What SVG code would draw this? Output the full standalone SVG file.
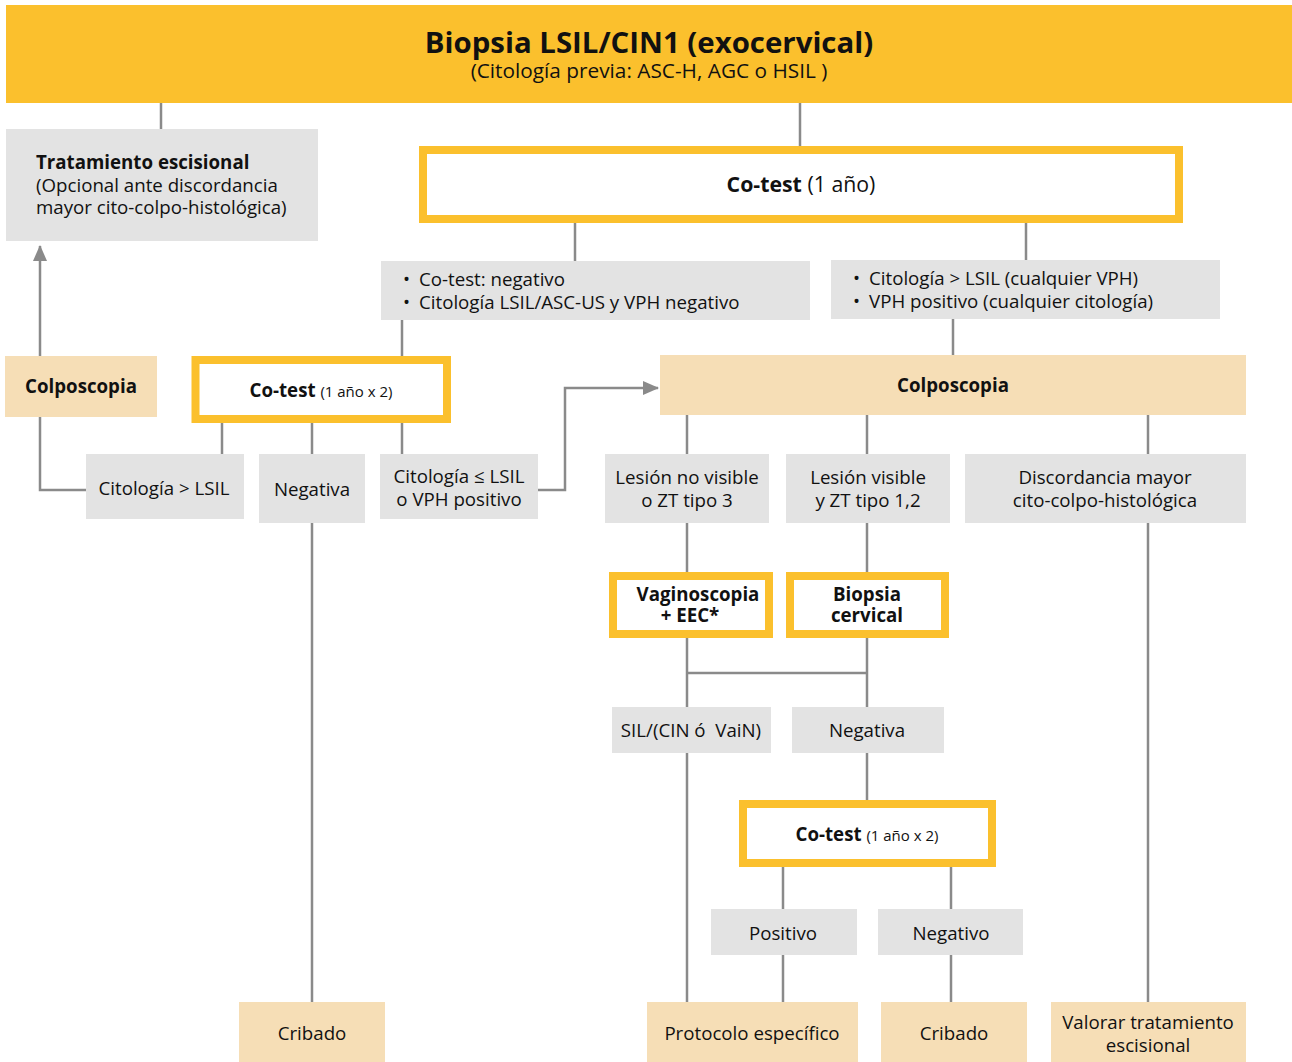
<svg xmlns="http://www.w3.org/2000/svg" width="1292" height="1062" viewBox="0 0 1292 1062">
<style>
text{font-family:"Open Sans","Noto Sans","DejaVu Sans",sans-serif;fill:#111;font-size:18.7px}
.c{text-anchor:middle}
.b{font-weight:bold}
.g{fill:#e3e3e3}
.y{fill:#f6deb6}
.o{fill:#fff;stroke:#fbc02d;stroke-width:8}
.ln{fill:none;stroke:#8a8a8a;stroke-width:2.5}
.s{font-size:15px}
</style>
<defs>
<marker id="ah2" viewBox="0 0 16 14" refX="15" refY="7" markerWidth="16" markerHeight="14" markerUnits="userSpaceOnUse" orient="auto">
<path d="M0,0 L16,7 L0,14 z" fill="#8a8a8a"/>
</marker>
</defs>
<g id="connectors">
<path class="ln" d="M161,103 V129"/>
<path class="ln" d="M800,103 V146"/>
<path class="ln" d="M575,223 V261"/>
<path class="ln" d="M1026,223 V260"/>
<path class="ln" d="M402,320 V356"/>
<path class="ln" d="M953,319 V355"/>
<path class="ln" d="M40,356 V246" marker-end="url(#ah2)"/>
<path class="ln" d="M40,417 V490 H86"/>
<path class="ln" d="M222,423 V454"/>
<path class="ln" d="M312,423 V454"/>
<path class="ln" d="M402,423 V454"/>
<path class="ln" d="M538,490 H565 V388 H658" marker-end="url(#ah2)"/>
<path class="ln" d="M312,523 V1002"/>
<path class="ln" d="M687,415 V454"/>
<path class="ln" d="M867,415 V454"/>
<path class="ln" d="M1148,415 V454"/>
<path class="ln" d="M687,523 V572"/>
<path class="ln" d="M867,523 V572"/>
<path class="ln" d="M687,638 V707"/>
<path class="ln" d="M867,638 V707"/>
<path class="ln" d="M687,673 H867"/>
<path class="ln" d="M687,753 V1002"/>
<path class="ln" d="M867,753 V800"/>
<path class="ln" d="M783,867 V909"/>
<path class="ln" d="M951,867 V909"/>
<path class="ln" d="M783,955 V1002"/>
<path class="ln" d="M951,955 V1002"/>
<path class="ln" d="M1148,523 V1002"/>
</g>
<g id="header">
<rect x="6" y="5" width="1286" height="98" fill="#fbc02d"/>
<text class="c b" x="649" y="53" style="font-size:29.4px">Biopsia LSIL/CIN1 (exocervical)</text>
<text class="c" x="649" y="78" style="font-size:20.8px">(Citología previa: ASC-H, AGC o HSIL )</text>
</g>
<g id="tratamiento">
<rect class="g" x="6" y="129" width="312" height="112"/>
<text class="b" x="36" y="169">Tratamiento escisional</text>
<text x="36" y="192">(Opcional ante discordancia</text>
<text x="36" y="214">mayor cito-colpo-histológica)</text>
</g>
<g id="cotest1">
<rect class="o" x="423" y="150" width="756" height="69"/>
<text class="c" x="801" y="192" style="font-size:21.3px"><tspan class="b">Co-test</tspan> (1 año)</text>
</g>
<g id="bullets1">
<rect class="g" x="381" y="261" width="429" height="59"/>
<text x="403" y="286">• <tspan x="419">Co-test: negativo</tspan></text>
<text x="403" y="309">• <tspan x="419">Citología LSIL/ASC-US y VPH negativo</tspan></text>
</g>
<g id="bullets2">
<rect class="g" x="831" y="260" width="389" height="59"/>
<text x="853" y="285">• <tspan x="869">Citología &gt; LSIL (cualquier VPH)</tspan></text>
<text x="853" y="308">• <tspan x="869">VPH positivo (cualquier citología)</tspan></text>
</g>
<g id="colpo1">
<rect class="y" x="5" y="356" width="152" height="61"/>
<text class="c b" x="81" y="393">Colposcopia</text>
</g>
<g id="cotest2">
<rect class="o" x="195.5" y="360" width="251.5" height="59"/>
<text class="c" x="321" y="397"><tspan class="b">Co-test</tspan> <tspan class="s">(1 año x 2)</tspan></text>
</g>
<g id="colpo2">
<rect class="y" x="660" y="355" width="586" height="60"/>
<text class="c b" x="953" y="392">Colposcopia</text>
</g>
<g id="citmayor">
<rect class="g" x="86" y="454" width="158" height="65"/>
<text class="c" x="164" y="495">Citología &gt; LSIL</text>
</g>
<g id="negativa1">
<rect class="g" x="259" y="454" width="106" height="69"/>
<text class="c" x="312" y="496">Negativa</text>
</g>
<g id="citmenor">
<rect class="g" x="380" y="454" width="158" height="65"/>
<text class="c" x="459" y="483">Citología ≤ LSIL</text>
<text class="c" x="459" y="506">o VPH positivo</text>
</g>
<g id="noVisible">
<rect class="g" x="605" y="454" width="164" height="69"/>
<text class="c" x="687" y="484">Lesión no visible</text>
<text class="c" x="687" y="507">o ZT tipo 3</text>
</g>
<g id="visible">
<rect class="g" x="786" y="454" width="164" height="69"/>
<text class="c" x="868" y="484">Lesión visible</text>
<text class="c" x="868" y="507">y ZT tipo 1,2</text>
</g>
<g id="discordancia">
<rect class="g" x="965" y="454" width="281" height="69"/>
<text class="c" x="1105" y="484">Discordancia mayor</text>
<text class="c" x="1105" y="507">cito-colpo-histológica</text>
</g>
<g id="vaginoscopia">
<rect class="o" x="613" y="576" width="156" height="58"/>
<text class="c b" x="698" y="601">Vaginoscopia</text>
<text class="c b" x="690" y="622">+ EEC*</text>
</g>
<g id="biopsia">
<rect class="o" x="790" y="576" width="155" height="58"/>
<text class="c b" x="867" y="601">Biopsia</text>
<text class="c b" x="867" y="622">cervical</text>
</g>
<g id="sil">
<rect class="g" x="612" y="707" width="159" height="46"/>
<text class="c" x="691" y="737" style="white-space:pre">SIL/(CIN ó  VaiN)</text>
</g>
<g id="negativa2">
<rect class="g" x="792" y="707" width="152" height="46"/>
<text class="c" x="867" y="737">Negativa</text>
</g>
<g id="cotest3">
<rect class="o" x="743" y="804" width="249" height="59"/>
<text class="c" x="867" y="841"><tspan class="b">Co-test</tspan> <tspan class="s">(1 año x 2)</tspan></text>
</g>
<g id="positivo">
<rect class="g" x="711" y="909" width="146" height="46"/>
<text class="c" x="783" y="940">Positivo</text>
</g>
<g id="negativo">
<rect class="g" x="878" y="909" width="145" height="46"/>
<text class="c" x="951" y="940">Negativo</text>
</g>
<g id="cribado1">
<rect class="y" x="239" y="1002" width="146" height="60"/>
<text class="c" x="312" y="1040">Cribado</text>
</g>
<g id="protocolo">
<rect class="y" x="647" y="1002" width="211" height="60"/>
<text class="c" x="752" y="1040">Protocolo específico</text>
</g>
<g id="cribado2">
<rect class="y" x="881" y="1002" width="146" height="60"/>
<text class="c" x="954" y="1040">Cribado</text>
</g>
<g id="valorar">
<rect class="y" x="1051" y="1002" width="195" height="60"/>
<text class="c" x="1148" y="1029">Valorar tratamiento</text>
<text class="c" x="1148" y="1052">escisional</text>
</g>
</svg>
